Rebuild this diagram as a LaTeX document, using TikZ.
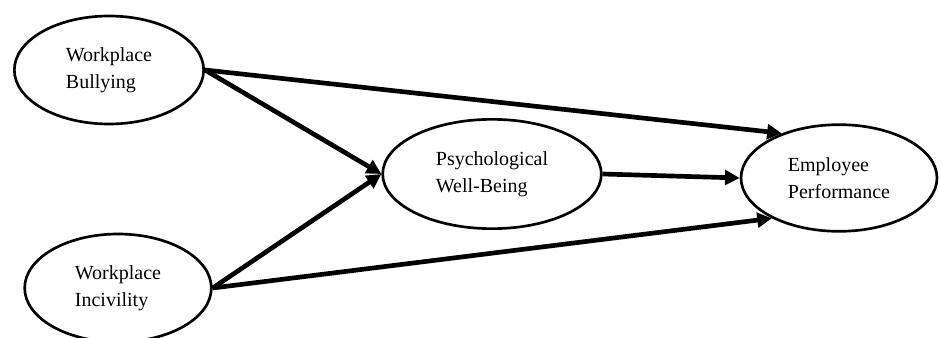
\documentclass[tikz,border=0pt]{standalone}
\usepackage{fontspec}
\setmainfont{Liberation Serif}
\usetikzlibrary{shapes.geometric}
\usetikzlibrary{arrows.meta}

\begin{document}
\begin{tikzpicture}[x=0.75pt, y=-0.75pt,
        var/.style={shape=ellipse, draw=black, line width=2pt, align=left, font=\fontsize{15}{20}\selectfont},
        link/.style={line width=3.5pt, -{Triangle[length=11pt, width=11pt]}}]

            \useasboundingbox (0,0) rectangle (941,338);
            \clip (0,0) rectangle (941,338);

            \node[var, minimum width=142pt, minimum height=81pt] (A) at (109,70) {Workplace\\Bullying};
            \node[var, minimum width=140pt, minimum height=81pt] (B) at (118,288) {Workplace\\Incivility};
            \node[var, minimum width=164pt, minimum height=82pt] (C) at (492,174) {Psychological\\Well-Being};
            \node[var, minimum width=147pt, minimum height=80pt] (D) at (839,178) {Employee\\Performance};

            \draw[link] (A.east) -- (D.142);
            \draw[link] (A.east) -- (C.west);
            \draw[link] (B.east) -- (C.west);
            \draw[link] (B.east) -- (D.211);
            \draw[link] (C.east) -- (D.west);

        \end{tikzpicture}
\end{document}
